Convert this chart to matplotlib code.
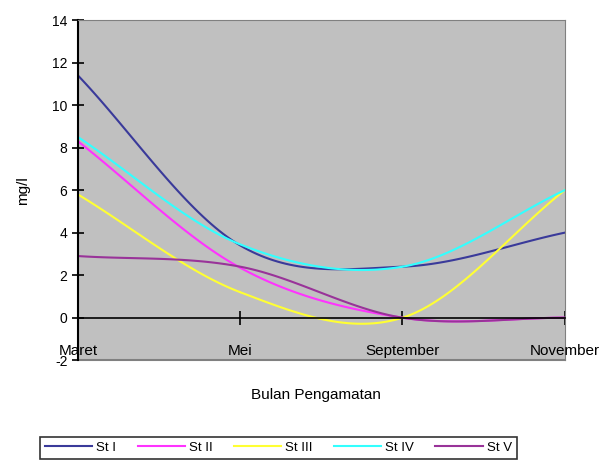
import numpy as np
import matplotlib
matplotlib.use("Agg")
import matplotlib.pyplot as plt

plt.rcParams['font.family'] = ['Liberation Sans Narrow', 'Liberation Sans', 'DejaVu Sans']
plt.rcParams['axes.unicode_minus'] = False

months = ["Maret", "Mei", "September", "November"]
st_1 = [11.4, 3.4, 2.4, 4.0]
st_2 = [8.3, 2.35, 0.0, 0.0]
st_3 = [5.8, 1.2, 0.0, 6.0]
st_4 = [8.5, 3.45, 2.4, 6.0]
st_5 = [2.9, 2.4, 0.0, 0.0]

names = ["St I", "St II", "St III", "St IV", "St V"]
colors = ["#3a3a9a", "#ff33ff", "#ffff33", "#33ffff", "#993399"]


def smooth(y, n=40):
    # catmull-rom style smoothing like the spreadsheet "smoothed line"
    y = np.asarray(y, dtype=float)
    p = np.concatenate([[2 * y[0] - y[1]], y, [2 * y[-1] - y[-2]]])
    xs, ys = [], []
    for i in range(len(y) - 1):
        p0, p1, p2, p3 = p[i], p[i + 1], p[i + 2], p[i + 3]
        t = np.linspace(0, 1, n)
        v = 0.5 * ((2 * p1) + (-p0 + p2) * t + (2 * p0 - 5 * p1 + 4 * p2 - p3) * t ** 2
                   + (-p0 + 3 * p1 - 3 * p2 + p3) * t ** 3)
        xs.append(i + t)
        ys.append(v)
    return np.concatenate(xs), np.concatenate(ys)


fig = plt.figure(figsize=(6.08, 4.66), dpi=100)
ax = fig.add_axes([0.128, 0.227, 0.801, 0.73])
ax.set_facecolor("#c0c0c0")

lines = []
for vals, c in zip([st_1, st_2, st_3, st_4, st_5], colors):
    x, y = smooth(vals)
    ln, = ax.plot(x, y, color=c, lw=1.5)
    lines.append(ln)

ax.set_xlim(0, 3)
ax.set_ylim(-2, 14)
ax.set_yticks(range(-2, 15, 2))
ax.tick_params(axis='y', direction='inout', length=8, width=1.2, labelsize=10)

ax.spines['bottom'].set_position(('data', 0))
ax.spines['bottom'].set_linewidth(1.2)
ax.spines['left'].set_linewidth(1.5)
for s in ['top', 'right']:
    ax.spines[s].set_color("#808080")
    ax.spines[s].set_linewidth(0.8)
ax.set_xticks(range(len(months)))
ax.set_xticklabels([])
ax.tick_params(axis='x', direction='inout', length=10, width=1.2)
ax.axhline(-2, color="#808080", lw=1.5, clip_on=False)

for i, m in enumerate(months):
    ax.text(i, -1.55, m, ha='center', va='center', fontsize=11, clip_on=False)

ax.set_ylabel("mg/l", fontsize=11, labelpad=16)
fig.text(0.52, 0.152, "Bulan Pengamatan", ha='center', va='center', fontsize=11)

leg = fig.legend(lines, names, loc='center', bbox_to_anchor=(0.458, 0.039), ncol=5,
                 frameon=True, fancybox=False, edgecolor='black', fontsize=9.5,
                 handlelength=3.6, columnspacing=1.6, borderpad=0.35, handletextpad=0.3)
leg.get_frame().set_linewidth(1.2)

fig.savefig("out.png", dpi=100)
